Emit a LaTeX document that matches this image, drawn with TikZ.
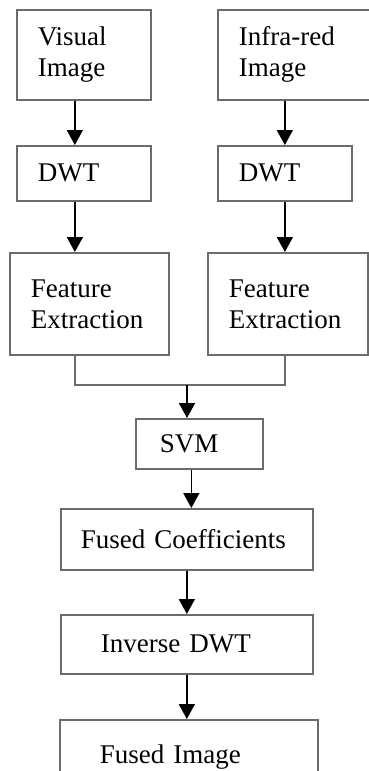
\documentclass[tikz,border=0pt]{standalone}
\usepackage{fontspec}
\setmainfont{Liberation Serif}
\newfontfamily\boxfont{Liberation Serif}
\usepackage{tikz}
\usetikzlibrary{arrows.meta}

\begin{document}
\begin{tikzpicture}[x=1pt,y=-1pt,
        blk/.style = {draw=black!58, line width=1.7pt, anchor=north west,
                      inner xsep=21pt, inner ysep=0pt, align=left,
                      font=\boxfont\fontsize{27}{31}\selectfont},
        arr/.style = {draw=black, line width=1.7pt, -{Triangle[width=16pt,length=15pt]}},
        lnk/.style = {draw=black!58, line width=1.7pt}]
            \useasboundingbox (0,0) rectangle (369,771);
            \clip (0,0) rectangle (369,771);
            \node [blk, minimum width=134pt, minimum height=90pt, text width=92pt] (vis) at (16,9) {Visual\\Image};
            \node [blk, minimum width=160pt, minimum height=90pt, text width=118pt] (ir) at (217,9) {Infra-red\\Image};
            \node [blk, minimum width=134pt, minimum height=55pt, text width=92pt] (dwtA) at (16,145) {DWT};
            \node [blk, minimum width=134pt, minimum height=55pt, text width=92pt] (dwtB) at (217,145) {DWT};
            \node [blk, minimum width=159pt, minimum height=102pt, text width=117pt] (featA) at (9,252) {Feature\\Extraction};
            \node [blk, minimum width=160pt, minimum height=102pt, text width=118pt] (featB) at (207,252) {Feature\\Extraction};
            \node [blk, minimum width=127pt, minimum height=50pt, text width=79pt, inner xsep=24pt] (svm) at (135,418) {SVM};
            \node [blk, minimum width=252pt, minimum height=61pt, text width=212pt, inner xsep=20pt] (fco) at (60,508) {Fused Coefficients};
            \node [blk, minimum width=252pt, minimum height=59pt, text width=172pt, inner xsep=40pt] (idwt) at (60,614) {Inverse DWT};
            \node [blk, minimum width=258pt, minimum height=68pt, text width=178pt, inner xsep=40pt,
                   text height=19pt, text depth=0pt] (fimg) at (59,719) {Fused Image};
            \coordinate (jn) at (187,385);
            \draw [arr] ([xshift=-9pt]vis.south) -- ([xshift=-9pt]dwtA.north);
            \draw [arr] (ir.south -| dwtB.north) -- (dwtB.north);
            \draw [arr] ([xshift=-9pt]dwtA.south) -- ([xshift=-9pt]dwtA.south |- featA.north);
            \draw [arr] (dwtB.south) -- (dwtB.south |- featB.north);
            \draw [lnk] ([xshift=-14.5pt]featA.south) |- (jn) -| (dwtB.south |- featB.south);
            \draw [arr] (jn) -- (jn |- svm.north);
            \draw [arr] ([xshift=-8pt]svm.south) -- ([xshift=-8pt]svm.south |- fco.north);
            \draw [arr] (fco.south) -- (idwt.north);
            \draw [arr] (idwt.south) -- (idwt.south |- fimg.north);
        \end{tikzpicture}
\end{document}
